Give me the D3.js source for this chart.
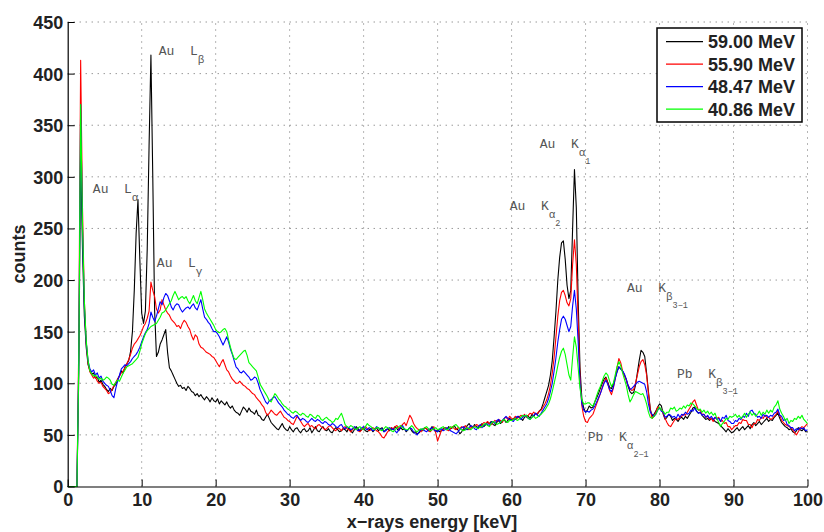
<!DOCTYPE html>
<html><head><meta charset="utf-8">
<script src="https://cdn.jsdelivr.net/npm/d3@7/dist/d3.min.js"></script>
<style>body{margin:0;background:#fff}svg{display:block}</style>
</head><body>
<svg id="chart" width="824" height="532"></svg>
<script>
// channel spacing of the spectra (keV)
const energyStep = 0.25;

const counts5900 = [
0,0,0,0,0,0,110,325,230,165,135,118,112,109,110,105,106,101,103,99,
97,94,92,95,93,97,99,104,107,112,110,116,119,122,131,150,190,245,278,220,
168,158,170,230,330,418,300,170,126,130,138,142,147,152,130,115,112,108,104,100,
97,98,95,96,93,97,95,92,91,88,90,87,89,86,84,87,85,82,86,83,
82,85,80,83,81,79,82,78,76,78,74,72,71,69,73,77,75,72,76,73,
72,70,74,69,68,65,64,67,70,66,62,60,58,56,55,58,61,57,55,54,
58,55,53,56,57,54,52,55,56,53,54,57,52,55,58,54,53,56,58,55,
54,56,53,52,55,57,55,53,54,56,55,53,57,54,52,55,58,56,54,55,
56,54,53,55,56,53,55,57,54,56,57,53,55,56,54,57,55,58,56,54,
57,55,56,53,55,57,54,52,53,51,52,55,54,57,56,54,55,58,55,53,
55,53,54,56,57,55,58,56,57,59,56,55,51,53,56,55,59,61,58,57,
60,58,57,59,61,58,60,62,61,63,60,59,62,64,61,63,65,62,64,66,
64,66,65,67,68,66,64,67,69,68,66,70,68,71,70,73,75,80,86,92,
98,108,122,145,170,200,222,236,238,220,195,182,190,250,307,270,180,115,85,76,
72,74,78,76,77,82,86,90,95,100,104,106,101,96,95,99,105,111,116,114,
112,108,104,97,92,90,91,98,110,122,132,130,126,110,92,75,68,70,73,77,
80,78,70,65,67,70,68,64,66,65,63,66,67,65,68,66,69,72,76,77,
73,71,72,69,67,65,66,64,66,65,63,62,61,59,57,55,53,56,54,52,
53,55,57,54,56,58,55,57,59,56,60,62,59,61,63,60,62,64,66,63,
65,64,67,69,71,66,62,60,58,57,55,56,53,52,54,57,55,54,56,53,
53];

const counts5590 = [
0,0,0,0,0,0,140,413,270,180,140,120,111,108,105,106,102,100,101,97,
95,93,90,91,94,98,101,104,107,110,112,115,119,123,128,134,138,140,143,146,
150,155,158,163,170,198,190,184,172,168,171,181,176,171,168,166,162,160,158,155,
156,153,158,161,159,155,152,146,142,147,145,138,135,134,132,130,129,128,126,125,
122,119,116,120,123,118,113,111,107,104,102,100,100,102,100,98,97,95,94,92,
90,89,86,84,82,79,77,72,69,71,74,72,70,69,71,73,70,67,66,64,
63,61,60,64,68,66,63,60,58,60,61,58,59,57,56,59,60,58,57,55,
56,58,59,57,55,54,57,56,54,57,58,56,55,53,55,57,56,54,53,55,
57,58,56,54,55,57,56,54,53,51,48,47,50,53,55,57,56,58,59,56,
58,60,62,59,64,69,66,61,58,56,55,53,55,57,56,54,53,55,58,52,
44,49,54,55,57,55,54,56,58,56,55,57,56,58,57,59,56,55,57,58,
58,60,59,57,60,62,61,63,61,60,62,64,63,65,64,62,66,67,65,68,
66,65,68,66,67,69,68,70,67,69,71,70,72,70,71,73,74,77,80,84,
90,98,110,125,145,165,180,188,190,185,178,175,182,215,239,215,160,105,78,68,
63,62,66,68,70,75,80,85,90,96,101,105,100,93,89,95,104,115,124,120,
112,107,103,98,95,93,94,100,108,116,121,123,118,108,90,74,66,68,72,77,
76,74,71,66,62,59,58,61,64,66,65,67,68,70,69,72,75,78,82,84,
79,74,74,70,70,67,68,65,66,63,67,66,67,63,64,61,62,58,58,55,
57,59,59,62,61,65,64,64,60,60,57,61,61,65,64,67,66,69,67,67,
65,66,68,70,73,69,64,62,60,59,58,57,55,52,50,53,56,58,57,59,
61];

const counts4847 = [
0,0,0,0,0,0,125,370,250,175,140,122,114,111,113,108,110,105,107,102,
100,98,97,93,88,86,95,102,108,114,116,118,117,119,121,124,126,128,131,135,
140,145,149,152,158,169,164,160,165,172,179,176,183,187,185,180,174,171,175,177,
176,172,169,171,173,174,172,175,177,173,171,176,181,172,164,162,159,157,153,150,
150,148,145,141,137,141,145,140,133,128,122,116,114,111,110,112,110,108,106,103,
104,106,105,100,94,90,86,82,80,83,84,86,87,84,81,79,77,74,72,70,
69,67,66,68,69,66,64,66,65,63,62,64,66,64,63,65,64,62,61,63,
62,60,59,61,60,58,57,59,60,57,56,58,57,55,56,58,56,54,55,57,
58,56,55,57,56,54,55,58,57,55,56,53,54,56,57,55,56,54,52,55,
57,59,56,54,55,57,56,53,51,50,53,55,56,54,53,55,56,57,55,54,
53,55,56,54,55,57,56,54,53,52,51,53,55,57,58,56,55,57,59,58,
56,55,58,60,57,59,61,60,59,62,63,61,64,65,62,64,66,68,66,65,
64,63,66,68,67,65,67,69,68,66,65,67,69,71,69,68,71,74,77,80,
85,92,100,112,125,140,152,162,165,162,156,150,155,175,190,172,140,100,80,74,
72,73,72,74,75,78,82,86,90,95,100,103,99,94,92,96,104,111,116,114,
112,109,104,98,94,95,97,99,101,102,101,100,99,92,80,72,70,68,70,74,
76,73,72,67,68,70,69,67,68,66,70,67,70,69,72,70,71,74,73,76,
73,71,72,69,70,67,69,66,68,65,67,65,66,63,67,66,69,64,63,61,
61,64,63,66,65,68,67,71,68,73,74,71,70,67,68,66,70,68,69,67,
69,68,71,72,75,69,68,64,65,60,59,57,57,54,56,55,57,56,57,54,
55];

const counts4086 = [
0,0,0,0,0,0,120,370,255,180,142,122,112,109,107,108,106,104,105,103,
104,106,105,103,99,98,101,103,102,106,110,113,116,117,118,119,121,123,125,131,
138,143,148,151,153,155,156,157,158,161,164,168,169,171,174,177,180,185,189,185,
181,183,184,182,184,180,177,181,185,180,177,183,189,181,172,168,165,162,159,156,
152,150,149,150,152,153,150,142,135,129,124,123,125,127,129,131,132,127,120,118,
116,114,112,106,99,96,93,90,87,83,82,86,90,88,85,83,80,78,77,75,
74,72,71,73,72,70,69,71,70,68,67,70,69,67,66,69,68,65,64,66,
67,65,64,62,63,66,65,68,71,66,60,58,57,59,58,56,55,57,58,56,
55,58,61,59,58,56,55,57,57,55,54,56,58,57,56,54,53,55,57,58,
59,57,56,55,55,57,59,57,54,53,55,56,55,57,58,56,54,55,56,57,
55,56,57,58,56,55,56,58,57,59,60,58,56,55,54,55,57,56,55,57,
58,57,56,58,58,60,61,59,58,61,63,62,60,61,62,64,65,63,62,64,
64,65,66,64,65,67,69,68,69,66,65,67,68,66,67,69,70,72,74,77,
80,85,92,100,108,117,125,131,134,128,118,108,103,125,145,135,115,95,84,80,
80,81,81,79,78,82,88,93,97,102,107,110,108,102,97,100,108,116,121,117,
110,104,98,89,82,85,89,92,91,90,89,90,86,80,72,67,66,68,70,74,
77,74,73,70,72,72,76,75,77,73,74,76,75,78,76,79,78,81,80,78,
76,74,75,72,74,71,73,70,72,69,71,66,62,58,61,63,66,65,68,67,
68,70,67,69,66,68,71,67,70,72,69,71,68,70,73,69,72,70,74,71,
74,72,77,79,83,75,71,68,64,66,61,64,63,66,65,68,66,69,65,63,
61];

const seriesNames = ["59.00 MeV", "55.90 MeV", "48.47 MeV", "40.86 MeV"];
const seriesColors = ["#000000", "#ff0000", "#0000ff", "#00ff00"];
const seriesCounts = [counts5900, counts5590, counts4847, counts4086];

const xTicks = [0, 10, 20, 30, 40, 50, 60, 70, 80, 90, 100];
const yTicks = [0, 50, 100, 150, 200, 250, 300, 350, 400, 450];

const xLabel = "x\u2212rays energy [keV]";
const yLabel = "counts";

// peak annotations: main text, subscript, second-level subscript, anchor (keV, counts)
const peakLabels = [
  {main: "Au  L", sub: "\u03b2", sub2: "", e: 12.3, c: 418},
  {main: "Au  L", sub: "\u03b1", sub2: "", e: 3.4, c: 284},
  {main: "Au  L", sub: "\u03b3", sub2: "", e: 12.05, c: 213},
  {main: "Au  K", sub: "\u03b1", sub2: "1", e: 63.8, c: 328},
  {main: "Au  K", sub: "\u03b1", sub2: "2", e: 59.75, c: 268},
  {main: "Au  K", sub: "\u03b2", sub2: "3\u22121", e: 75.6, c: 188},
  {main: "Pb  K", sub: "\u03b2", sub2: "3\u22121", e: 82.35, c: 105},
  {main: "Pb  K", sub: "\u03b1", sub2: "2\u22121", e: 70.3, c: 44}
];

const svg = d3.select("#chart");
const pLeft = 67.7, pRight = 807.5, pTop = 22, pBottom = 486.5;

const x = d3.scaleLinear().domain([0, 100]).range([pLeft, pRight]);
const y = d3.scaleLinear().domain([0, 450]).range([pBottom, pTop]);

// grid
const grid = svg.append("g").attr("stroke", "#6a6a6a").attr("stroke-width", 1)
  .attr("stroke-dasharray", "1,5").attr("fill", "none");
xTicks.filter(t => t > 0).forEach(t => {
  grid.append("line").attr("x1", x(t)).attr("x2", x(t)).attr("y1", pBottom).attr("y2", pTop);
});
yTicks.filter(t => t > 0).forEach(t => {
  grid.append("line").attr("x1", pLeft).attr("x2", pRight).attr("y1", y(t)).attr("y2", y(t));
});

// data lines
const line = d3.line()
  .x((d, i) => x(i * energyStep))
  .y(d => y(d));
seriesCounts.forEach((vals, k) => {
  svg.append("path").datum(vals)
    .attr("d", line)
    .attr("fill", "none")
    .attr("stroke", seriesColors[k])
    .attr("stroke-width", 1.1)
    .attr("stroke-linejoin", "round");
});

// axes
const xAxis = d3.axisBottom(x).tickValues(xTicks).tickSizeInner(-7).tickSizeOuter(0).tickPadding(7);
const yAxis = d3.axisLeft(y).tickValues(yTicks).tickSizeInner(-7).tickSizeOuter(0).tickPadding(4.5);
const gx = svg.append("g").attr("transform", `translate(0,${pBottom})`).call(xAxis);
const gy = svg.append("g").attr("transform", `translate(${pLeft},0)`).call(yAxis);
[gx, gy].forEach(g => {
  g.select(".domain").attr("stroke", "#000").attr("stroke-width", 1.2);
  g.selectAll(".tick line").attr("stroke", "#000");
  g.selectAll(".tick text").attr("font-family", "Liberation Sans, Arial, sans-serif")
    .attr("font-size", 18).attr("font-weight", "bold").attr("fill", "#222");
});
gx.selectAll(".tick text").attr("dy", "0.71em");
gy.selectAll(".tick text").attr("dy", "0.36em");

// axis titles
svg.append("text").attr("x", 432).attr("y", 528).attr("text-anchor", "middle")
  .attr("font-family", "Liberation Sans, Arial, sans-serif").attr("font-size", 18)
  .attr("font-weight", "bold").attr("fill", "#222").text(xLabel);
svg.append("text").attr("transform", "translate(25,254) rotate(-90)").attr("text-anchor", "middle")
  .attr("font-family", "Liberation Sans, Arial, sans-serif").attr("font-size", 18)
  .attr("font-weight", "bold").attr("fill", "#222").text(yLabel);

// peak labels
peakLabels.forEach(p => {
  const t = svg.append("text").attr("x", x(p.e)).attr("y", y(p.c))
    .attr("font-family", "Liberation Mono, Courier New, monospace")
    .attr("font-size", 13).attr("fill", "#555").style("white-space", "pre");
  t.append("tspan").text(p.main);
  t.append("tspan").attr("dy", 8).attr("font-size", 11).text(p.sub);
  if (p.sub2) t.append("tspan").attr("dy", 8).attr("font-size", 8.5).text(p.sub2);
});

// legend
const lg = svg.append("g");
lg.append("rect").attr("x", 657).attr("y", 28).attr("width", 145).attr("height", 94)
  .attr("fill", "#fff").attr("stroke", "#000").attr("stroke-width", 1.5);
seriesNames.forEach((n, k) => {
  const cy = 41.7 + k * 22.5;
  lg.append("line").attr("x1", 666).attr("x2", 703).attr("y1", cy).attr("y2", cy)
    .attr("stroke", seriesColors[k]).attr("stroke-width", 1.2);
  lg.append("text").attr("x", 708).attr("y", cy + 6.5)
    .attr("font-family", "Liberation Sans, Arial, sans-serif").attr("font-size", 18)
    .attr("font-weight", "bold").attr("fill", "#222").text(n);
});
</script>
</body></html>
